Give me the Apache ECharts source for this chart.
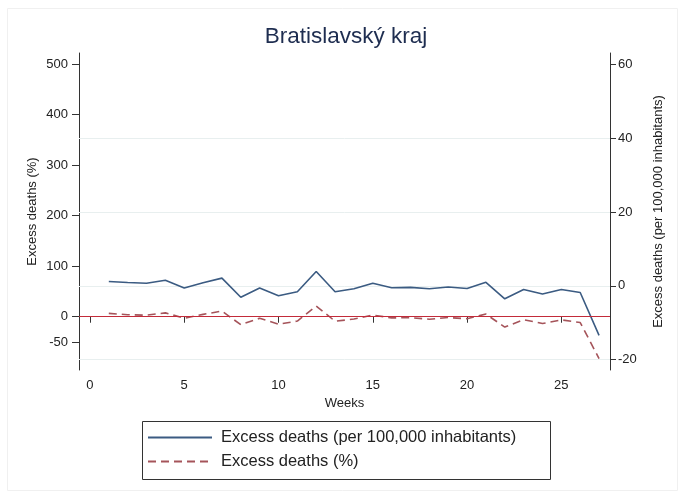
<!DOCTYPE html>
<html>
<head>
<meta charset="utf-8">
<script src="https://cdn.jsdelivr.net/npm/echarts@6/dist/echarts.min.js"></script>
<style>
html,body{margin:0;padding:0;background:#fff;}
#chart{width:680px;height:494px;}
</style>
</head>
<body>
<div id="chart"></div>
<script>
// ---- data ----
const weeks = [1,2,3,4,5,6,7,8,9,10,11,12,13,14,15,16,17,18,19,20,21,22,23,24,25,26,27];
const excessPer100k = [1.2,0.9,0.7,1.5,-0.6,0.85,2.1,-3.1,-0.6,-2.7,-1.6,3.9,-1.6,-0.8,0.7,-0.5,-0.4,-0.8,-0.3,-0.7,0.95,-3.5,-1.0,-2.2,-1.0,-1.8,-13.4];
const excessPct = [6.6,4.0,3.0,7.6,-3.0,4.6,11.2,-15.8,-3.0,-14.8,-8.6,21.1,-8.9,-4.6,3.3,-2.3,-2.0,-5.0,-1.6,-4.0,5.2,-20.5,-5.9,-13.5,-6.2,-11.5,-83.0];
const xTicks = [0,5,10,15,20,25];
const leftTicks = [-50,0,100,200,300,400,500];
const rightTicks = [-20,0,20,40,60];
const rightGrid = [-20,0,20,40];
const titleText = 'Bratislavský kraj';
const seriesNames = ['Excess deaths (per 100,000 inhabitants)', 'Excess deaths (%)'];

const font = '"Liberation Sans", Arial, Helvetica, sans-serif';
const axisColor = '#333';
const chart = echarts.init(document.getElementById('chart'), null, {renderer:'canvas'});

const pairs = (xs, ys) => xs.map((x,i)=>[x, ys[i]]);

chart.setOption({
  animation: false,
  backgroundColor: '#fff',
  title: {
    text: titleText,
    left: 341, top: 20,
    textAlign: 'center',
    textStyle: {fontFamily: font, fontSize: 22.5, fontWeight: 'normal', color: '#1e2d50'}
  },
  grid: {left: 79, right: 70, top: 53, bottom: 124, containLabel: false},
  legend: {
    orient: 'vertical',
    left: 147, top: 429,
    itemWidth: 64, itemHeight: 12,
    itemGap: 7,
    padding: 0,
    itemStyle: {opacity: 0, borderWidth: 0},
    textStyle: {fontFamily: font, fontSize: 16.5, color: '#222', padding: [0,0,0,4]},
    data: seriesNames
  },
  graphic: [
    {type:'rect', left: 5, top: 6, shape:{width: 670, height: 482}, style:{fill:'none', stroke:'#f0f0f0', lineWidth:1}, silent:true, z:-1},
    {type:'rect', left: 140, top: 419, shape:{width: 408, height: 58}, style:{fill:'none', stroke:'#333', lineWidth:1}, silent:true}
  ],
  xAxis: {
    type: 'value',
    min: -0.58, max: 27.58,
    name: 'Weeks', nameLocation: 'middle', nameGap: 27,
    nameTextStyle: {fontFamily: font, fontSize: 13, color: '#222'},
    axisLine: {show: true, lineStyle: {color: axisColor, width: 1}},
    axisTick: {show: true, inside: false, length: 6, customValues: xTicks, lineStyle:{color: axisColor, width: 1}},
    axisLabel: {customValues: xTicks, fontFamily: font, fontSize: 13, color: '#222', margin: 9},
    splitLine: {show: false}
  },
  yAxis: [
    {
      type: 'value', position: 'left',
      min: -105.5, max: 522.2,
      name: 'Excess deaths (%)', nameLocation: 'middle', nameRotate: 90, nameGap: 40,
      nameMoveOverlap: false,
      nameTextStyle: {fontFamily: font, fontSize: 13, color: '#222'},
      axisLine: {show: true, onZero: false, lineStyle: {color: axisColor, width: 1}},
      axisTick: {show: true, inside: false, length: 7, customValues: leftTicks, lineStyle:{color: axisColor, width: 1}},
      axisLabel: {customValues: leftTicks, fontFamily: font, fontSize: 13, color: '#222', margin: 11},
      splitLine: {show: false}
    },
    {
      type: 'value', position: 'right',
      min: -22.8, max: 63.1,
      name: 'Excess deaths (per 100,000 inhabitants)', nameLocation: 'middle', nameRotate: 90, nameGap: 42,
      nameMoveOverlap: false,
      nameTextStyle: {fontFamily: font, fontSize: 13, color: '#222'},
      axisLine: {show: true, onZero: false, lineStyle: {color: axisColor, width: 1}},
      axisTick: {show: true, inside: false, length: 6, customValues: rightTicks, lineStyle:{color: axisColor, width: 1}},
      axisLabel: {customValues: rightTicks, fontFamily: font, fontSize: 13, color: '#222', margin: 8},
      splitLine: {show: false}
    }
  ],
  series: [
    {
      name: seriesNames[0],
      type: 'line', yAxisIndex: 1,
      data: pairs(weeks, excessPer100k),
      symbol: 'none', z: 4,
      lineStyle: {color: '#3b5b82', width: 1.6},
      itemStyle: {color: '#3b5b82'},
      markLine: {
        silent: true, symbol: 'none', label: {show: false},
        lineStyle: {color: '#e8efef', width: 1, type: 'solid'},
        z: 1,
        data: rightGrid.map(v => ({yAxis: v}))
      }
    },
    {
      name: seriesNames[1],
      type: 'line', yAxisIndex: 0,
      data: pairs(weeks, excessPct),
      symbol: 'none', z: 3,
      lineStyle: {color: '#a5545a', width: 1.6, type: [8, 5]},
      itemStyle: {color: '#a5545a'},
      markLine: {
        silent: true, symbol: 'none', label: {show: false},
        lineStyle: {color: '#c32b3a', width: 1.2, type: 'solid'},
        data: [{yAxis: 0}]
      }
    }
  ]
});
</script>
</body>
</html>
